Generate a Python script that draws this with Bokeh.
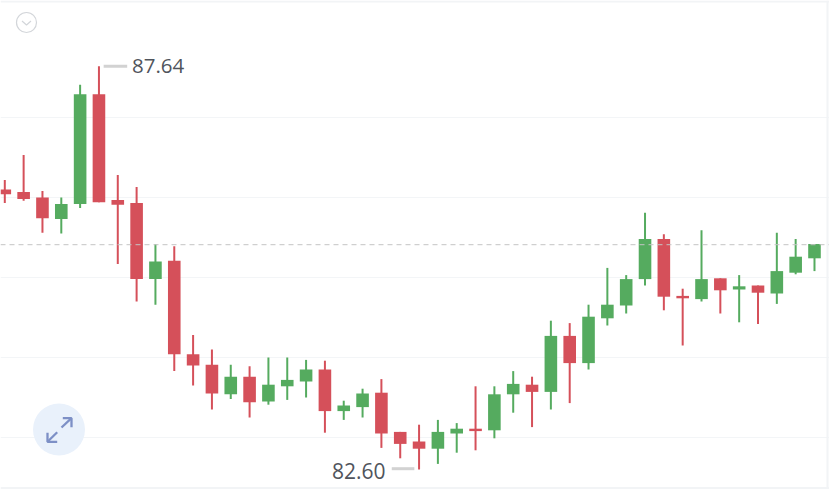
from bokeh.embed import file_html
from bokeh.models import ColumnDataSource, FixedTicker, Label, Range1d, Span
from bokeh.plotting import figure
from bokeh.resources import INLINE

opens = [86.10, 86.07, 86.00, 85.73, 85.92, 87.29, 85.97, 85.93, 84.98, 85.21, 84.04, 83.91,
         83.54, 83.76, 83.45, 83.64, 83.70, 83.85, 83.33, 83.38, 83.56, 83.07, 82.95, 82.86,
         83.05, 83.11, 83.09, 83.54, 83.66, 83.57, 84.27, 83.93, 84.49, 84.65, 84.98, 85.48,
         84.77, 84.73, 84.99, 84.85, 84.90, 84.80, 85.06, 85.24]
closes = [86.04, 85.98, 85.74, 85.92, 87.29, 85.94, 85.91, 84.98, 85.20, 84.04, 83.90, 83.55,
          83.76, 83.44, 83.66, 83.72, 83.85, 83.33, 83.40, 83.55, 83.05, 82.92, 82.86, 83.07,
          83.11, 83.08, 83.54, 83.67, 83.57, 84.27, 83.93, 84.51, 84.66, 84.98, 85.48, 84.76,
          84.74, 84.98, 84.84, 84.89, 84.81, 85.08, 85.26, 85.42]
highs = [86.22, 86.53, 86.08, 86.00, 87.41, 87.64, 86.28, 86.13, 85.42, 85.39, 84.28, 84.10,
         83.91, 83.89, 84.00, 84.00, 83.97, 83.96, 83.46, 83.61, 83.73, 83.07, 83.16, 83.22,
         83.18, 83.64, 83.64, 83.83, 83.76, 84.46, 84.43, 84.66, 85.12, 85.03, 85.81, 85.54,
         84.86, 85.59, 84.99, 85.03, 84.90, 85.56, 85.48, 85.42]
lows = [85.93, 85.96, 85.56, 85.55, 85.87, 85.94, 85.17, 84.70, 84.66, 83.83, 83.65, 83.35,
        83.48, 83.25, 83.41, 83.47, 83.50, 83.06, 83.22, 83.25, 82.87, 82.74, 82.60, 82.67,
        82.81, 82.84, 82.99, 83.31, 83.13, 83.35, 83.43, 83.85, 84.40, 84.55, 84.90, 84.59,
        84.15, 84.70, 84.55, 84.44, 84.42, 84.67, 85.04, 85.08]
grid_levels = [83, 84, 85, 86, 87]
last_price = 85.41
max_label = "87.64"
min_label = "82.60"

W, H = 829, 489
STEP = 18.83
X0 = -4.3 / STEP
Y_TOP = 88.4625
PX_PER_UNIT = 80.0
GREEN, RED = "#55ab5f", "#d5505a"


def fx(px):
    return X0 + px / STEP


def fy(py):
    return Y_TOP - py / PX_PER_UNIT


p = figure(width=W, height=H, output_backend="svg", toolbar_location=None,
           x_range=Range1d(X0, fx(W)), y_range=Range1d(fy(H), Y_TOP),
           min_border=0, background_fill_color="white", border_fill_color="white",
           outline_line_color=None)
p.xaxis.visible = False
p.yaxis.visible = False
p.xgrid.visible = False
p.yaxis.ticker = FixedTicker(ticks=grid_levels)
p.ygrid.ticker = FixedTicker(ticks=grid_levels)
p.ygrid.grid_line_color = "#f3f5f7"
p.ygrid.grid_line_width = 1

# frame edges
for dim, loc in (("width", fy(1)), ("width", fy(487.5)), ("height", fx(827))):
    p.add_layout(Span(location=loc, dimension=dim, line_color="#f2f4f6", line_width=2))

# last price line
p.add_layout(Span(location=last_price, dimension="width", line_color="#c4c4c4",
                  line_width=1, line_dash="5 4"))

xs = list(range(len(opens)))
src = ColumnDataSource(dict(
    x=xs, top=[max(o, c) for o, c in zip(opens, closes)],
    bottom=[min(o, c) for o, c in zip(opens, closes)],
    high=highs, low=lows,
    color=[GREEN if c > o else RED for o, c in zip(opens, closes)],
))
p.segment("x", "high", "x", "low", source=src, line_color="color", line_width=2)
p.vbar("x", top="top", bottom="bottom", width=12.6 / STEP, source=src,
       fill_color="color", line_color=None)

# extreme markers
hi_i = highs.index(max(highs))
lo_i = lows.index(min(lows))
p.segment([hi_i + 0.25, lo_i - 1.45], [max(highs), min(lows) + 0.01],
          [hi_i + 1.5, lo_i - 0.25], [max(highs), min(lows) + 0.01],
          line_color="#d2d2d2", line_width=3)
p.add_layout(Label(x=hi_i, y=max(highs), x_offset=33, text=max_label, text_font="Open Sans",
                   text_font_size="20.5px", text_color="#50545c", text_baseline="middle",
                   text_align="left"))
p.add_layout(Label(x=lo_i, y=min(lows), x_offset=-33.5, y_offset=-1, text=min_label,
                   text_font="Open Sans", text_font_size="21px", text_color="#50545c",
                   text_baseline="middle", text_align="right"))

# collapse icon, top left
p.circle([fx(26)], [fy(22)], radius=10, radius_units="screen", fill_color="white",
         line_color="#d3d6da", line_width=1.2)
p.line([fx(21.5), fx(26), fx(30.5)], [fy(20.5), fy(24.5), fy(20.5)],
       line_color="#d3d6da", line_width=1.2)

# expand button, bottom left
p.circle([fx(58.5)], [fy(429)], radius=26, radius_units="screen", fill_color="#e9f1fb",
         line_color=None)
p.multi_line(
    [[fx(47), fx(56.7)], [fx(47), fx(47), fx(56.7)],
     [fx(71), fx(61)], [fx(62.3), fx(71), fx(71)]],
    [[fy(441.3), fy(431.7)], [fy(432.3), fy(441.3), fy(441.3)],
     [fy(417.7), fy(427)], [fy(417.7), fy(417.7), fy(426.7)]],
    line_color="#7d90c6", line_width=2.3)

open("out.html", "w").write(file_html(p, INLINE))
